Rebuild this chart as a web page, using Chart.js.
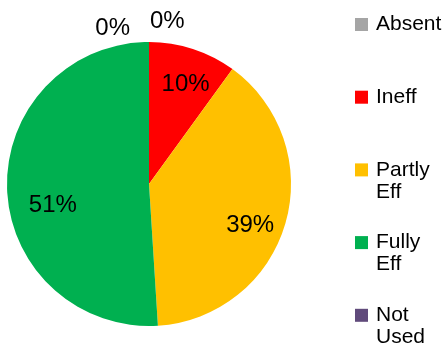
<!DOCTYPE html>
<html>
<head>
<meta charset="utf-8">
<script src="https://cdn.jsdelivr.net/npm/chart.js@4"></script>
<style>
  html, body { margin: 0; padding: 0; background: #fff; }
  #wrap { width: 445px; height: 351px; }
</style>
</head>
<body>
<div id="wrap"><canvas id="myChart" width="445" height="351"></canvas></div>
<script>
const categories = ['Absent', 'Ineff', 'Partly Eff', 'Fully Eff', 'Not Used']
const legendLines = [['Absent'], ['Ineff'], ['Partly', 'Eff'], ['Fully', 'Eff'], ['Not', 'Used']]
const shares = [0, 10, 39, 51, 0]
const sliceColors = ['#A5A5A5', '#FF0000', '#FFC000', '#00B050', '#604A7B']

const FONT = '"Liberation Sans", Arial, Helvetica, sans-serif'

// percentage labels, inside for real slices, above the top for empty ones
const pctLabels = {
  id: 'pctLabels',
  afterDatasetsDraw(chart, args, opts) {
    const ctx = chart.ctx
    const meta = chart.getDatasetMeta(0)
    const nudge = opts.nudge || {}
    ctx.save()
    ctx.font = '24px ' + FONT
    ctx.fillStyle = '#000'
    ctx.textAlign = 'center'
    ctx.textBaseline = 'middle'
    let zeroSeen = 0
    meta.data.forEach((arc, i) => {
      const v = shares[i]
      const txt = v + '%'
      const p = arc.getProps(['x', 'y', 'startAngle', 'endAngle', 'outerRadius'], true)
      if (v === 0) {
        const w = ctx.measureText(txt).width
        if (zeroSeen === 0) {
          ctx.fillText(txt, p.x - w / 2 - 19, p.y - p.outerRadius - 14)
        } else {
          ctx.fillText(txt, p.x + w / 2 + 1, p.y - p.outerRadius - 21)
        }
        zeroSeen++
        return
      }
      const mid = (p.startAngle + p.endAngle) / 2
      const r = p.outerRadius * 0.72
      const n = nudge[i] || [0, 0]
      ctx.fillText(txt, p.x + Math.cos(mid) * r + n[0], p.y + Math.sin(mid) * r + n[1])
    })
    ctx.restore()
  }
}

// legend on the right with wrapped labels
const sideLegend = {
  id: 'sideLegend',
  afterDraw(chart) {
    const ctx = chart.ctx
    ctx.save()
    ctx.font = '21px ' + FONT
    ctx.textBaseline = 'middle'
    ctx.textAlign = 'left'
    const x0 = 355, y0 = 24.5, step = 72.7, box = 13, lineH = 22
    categories.forEach((c, i) => {
      const y = y0 + i * step
      ctx.fillStyle = sliceColors[i]
      ctx.fillRect(x0, y - box / 2, box, box)
      ctx.fillStyle = '#000'
      legendLines[i].forEach((ln, j) => {
        ctx.fillText(ln, x0 + 21, y + j * lineH)
      })
    })
    ctx.restore()
  }
}

const canvas = document.getElementById('myChart')
let myChart

const config = {
  type: 'pie',
  data: {
    labels: categories,
    datasets: [{
      data: shares,
      backgroundColor: sliceColors,
      borderWidth: 0
    }]
  },
  options: {
    responsive: false,
    animation: false,
    layout: {
      padding: { top: 42, bottom: 25, left: 7, right: 154 }
    },
    plugins: {
      legend: { display: false },
      tooltip: { enabled: false },
      pctLabels: { nudge: { 1: [5, -2], 2: [3, 13], 3: [6, 18] } }
    }
  },
  plugins: [pctLabels, sideLegend]
}

if (canvas) {
  myChart = new Chart(canvas, config)
}
</script>
</body>
</html>
